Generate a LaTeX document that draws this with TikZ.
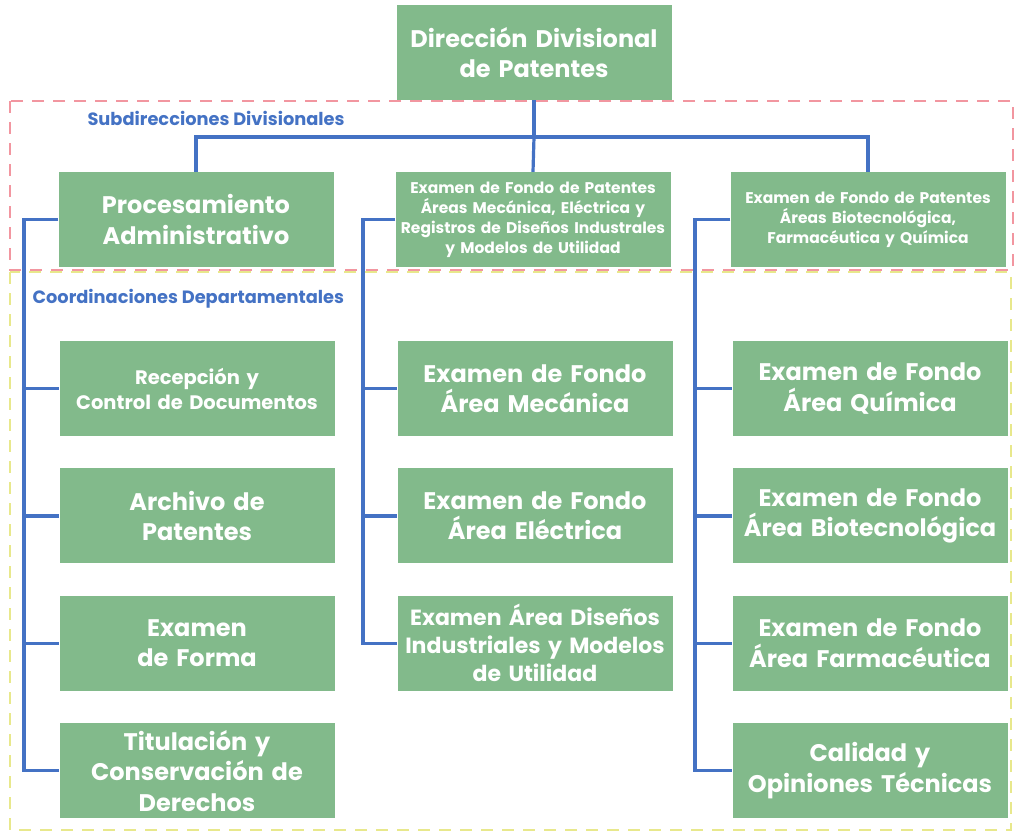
\documentclass[tikz,border=0pt]{standalone}
\usepackage{fontspec}
\setmainfont{Poppins}
\usetikzlibrary{positioning,calc}

\definecolor{boxgreen}{RGB}{130,186,139}
\definecolor{lineblue}{RGB}{68,114,196}
\definecolor{dashred}{RGB}{242,150,160}
\definecolor{dashyellow}{RGB}{232,232,140}

\begin{document}
\begin{tikzpicture}[x=1pt,y=-1pt,node distance=32pt,
  unit/.style={fill=boxgreen,text=white,font=\bfseries,align=center,
    text width=267pt,inner sep=4pt,minimum height=95pt},
  big/.style={unit,font=\fontsize{24}{30.5}\selectfont\bfseries},
  bigtight/.style={unit,font=\fontsize{22}{28}\selectfont\bfseries},
  mid/.style={unit,font=\fontsize{19.5}{25}\selectfont\bfseries},
  small/.style={unit,font=\fontsize{15.5}{20}\selectfont\bfseries},
  link/.style={draw=lineblue,line width=3.2pt},
  zone/.style={dashed,line width=1.8pt,dash pattern=on 12pt off 9pt},
  zonelabel/.style={text=lineblue,font=\fontsize{17.8}{20}\selectfont\bfseries,anchor=west}]

\useasboundingbox (0,0) rectangle (1014,832);

% zonas
\draw[zone,draw=dashyellow] (10,272) rectangle (1011,830);
\draw[zone,draw=dashred] (10,101) rectangle (1013,270);
\node[zonelabel] (lsub) at (84,118) {Subdirecciones Divisionales};
\node[zonelabel] (lcoord) at (29,299) {Coordinaciones Departamentales};

% direccion
\node[big] (ddp) at (534,52.5) {Direcci\'on Divisional\\de Patentes};

% subdirecciones
\node[big] (proc) at (196,219.5) {Procesamiento\\Administrativo};
\node[small] (sfme) at (533,219.5) {Examen de Fondo de Patentes\\\'Areas Mec\'anica, El\'ectrica y\\Registros de Dise\~nos Industrales\\y Modelos de Utilidad};
\node[small] (sfbq) at (868,219.5) {Examen de Fondo de Patentes\\\'Areas Biotecnol\'ogica,\\Farmac\'eutica y Qu\'imica};

% coordinaciones, columna izquierda
\node[mid] (rec) at (197,388.5) {Recepci\'on y\\Control de Documentos};
\node[big] (arch) [below=of rec] {Archivo de\\Patentes};
\node[big] (forma) [below=of arch] {Examen\\de Forma};
\node[big] (tit) [below=of forma] {Titulaci\'on y\\Conservaci\'on de\\Derechos};

% columna central
\node[big] (emec) at (535,388.5) {Examen de Fondo\\\'Area Mec\'anica};
\node[big] (eele) [below=of emec] {Examen de Fondo\\\'Area El\'ectrica};
\node[bigtight] (edis) [below=of eele] {Examen \'Area Dise\~nos\\Industriales y Modelos\\de Utilidad};

% columna derecha
\node[big] (equi) at (870,388.5) {Examen de Fondo\\\'Area Qu\'imica};
\node[big] (ebio) [below=of equi] {Examen de Fondo\\\'Area Biotecnol\'ogica};
\node[big] (efar) [below=of ebio] {Examen de Fondo\\\'Area Farmac\'eutica};
\node[big] (ecal) [below=of efar] {Calidad y\\Opiniones T\'ecnicas};

\coordinate (bus) at (0,137);
\coordinate (ltrunk) at (24,0);
\coordinate (mtrunk) at (363,0);
\coordinate (rtrunk) at (695,0);

% conectores
\draw[link] (ddp.south) -- (ddp.south |- bus);
\draw[link] (proc.north) |- (bus -| sfbq.north) -- (sfbq.north);
\draw[link] (ddp.south |- bus) -- (sfme.north);

\draw[link] (proc.west) -| (ltrunk |- tit.west) -- (tit.west);
\draw[link] (ltrunk |- rec.west) -- (rec.west);
\draw[link] (ltrunk |- arch.west) -- (arch.west);
\draw[link] (ltrunk |- forma.west) -- (forma.west);

\draw[link] (sfme.west) -| (mtrunk |- edis.west) -- (edis.west);
\draw[link] (mtrunk |- emec.west) -- (emec.west);
\draw[link] (mtrunk |- eele.west) -- (eele.west);

\draw[link] (sfbq.west) -| (rtrunk |- ecal.west) -- (ecal.west);
\draw[link] (rtrunk |- equi.west) -- (equi.west);
\draw[link] (rtrunk |- ebio.west) -- (ebio.west);
\draw[link] (rtrunk |- efar.west) -- (efar.west);

\end{tikzpicture}
\end{document}
